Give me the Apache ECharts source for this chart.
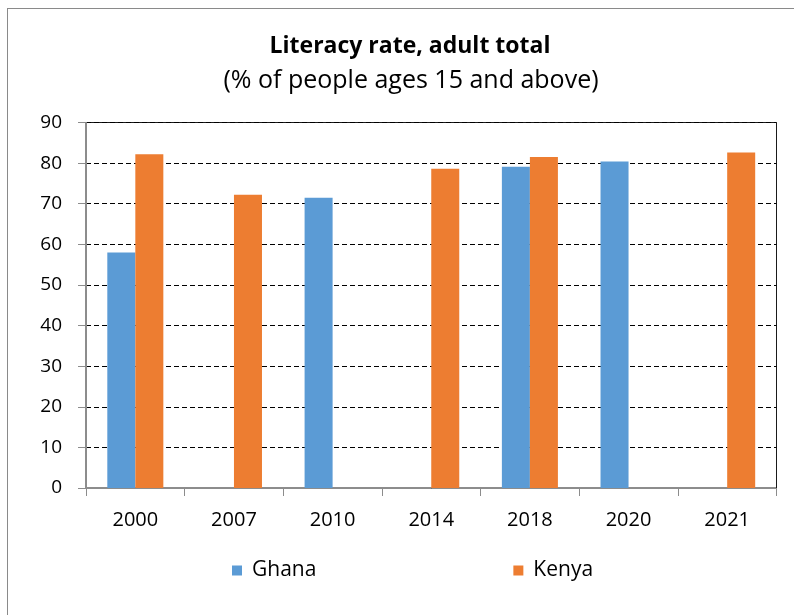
<!DOCTYPE html>
<html>
<head>
<meta charset="utf-8">
<script src="https://cdn.jsdelivr.net/npm/echarts@6/dist/echarts.min.js"></script>
<style>
  html, body { margin: 0; padding: 0; background: #fff; }
  #frame { position: absolute; left: 7px; top: 8px; width: 800px; height: 620px;
           border-left: 1px solid #8a8a8a; border-top: 1px solid #8a8a8a; }
  #chart { width: 794px; height: 615px; position: absolute; left: 0; top: 0; }
</style>
</head>
<body>
<div id="frame"></div>
<div id="chart"></div>
<script>
// Survey years on the category axis
const years = ['2000', '2007', '2010', '2014', '2018', '2020', '2021'];
// Adult literacy rate (%), null where no survey was reported
const ghana = [58.0, null, 71.5, null, 79.1, 80.4, null];
const kenya = [82.2, 72.2, null, 78.6, 81.5, null, 82.6];
// Value axis range
const yMin = 0, yMax = 90, yStep = 10;

const FONT = '"Open Sans", Lato, sans-serif';
const chart = echarts.init(document.getElementById('chart'), null, { renderer: 'canvas' });

chart.setOption({
  animation: false,
  backgroundColor: 'transparent',
  title: [
    {
      text: 'Literacy rate, adult total',
      left: 405, top: 30, textAlign: 'center',
      textStyle: { fontFamily: FONT, fontSize: 23, fontWeight: 'bold', color: '#000' }
    },
    {
      text: '(% of people ages 15 and above)',
      left: 406, top: 63, textAlign: 'center',
      textStyle: { fontFamily: FONT, fontSize: 25, fontWeight: 'normal', color: '#000' }
    }
  ],
  grid: {
    left: 86, top: 122.5, width: 690.5, height: 365.5,
    show: true, borderColor: '#1a1a1a', borderWidth: 1, backgroundColor: 'transparent'
  },
  legend: {
    left: 227, top: 555,
    itemWidth: 10, itemHeight: 10, itemGap: 197,
    icon: 'rect',
    textStyle: { fontFamily: FONT, fontSize: 21, color: '#000', padding: [0, 0, 0, 5] },
    data: ['Ghana', 'Kenya']
  },
  xAxis: {
    type: 'category',
    data: years,
    axisLine: { show: true, lineStyle: { color: '#8c8c8c', width: 1 } },
    axisTick: { show: true, length: 8, inside: false, alignWithLabel: false,
                lineStyle: { color: '#8c8c8c' } },
    axisLabel: { margin: 22, fontFamily: FONT, fontSize: 20, color: '#000' },
    splitLine: { show: false }
  },
  yAxis: {
    type: 'value',
    min: yMin, max: yMax, interval: yStep,
    axisLine: { show: true, lineStyle: { color: '#8c8c8c', width: 1 } },
    axisTick: { show: true, length: 8, lineStyle: { color: '#8c8c8c' } },
    axisLabel: { margin: 24, fontFamily: FONT, fontSize: 19, color: '#000' },
    splitLine: { show: true, lineStyle: { color: '#000', type: [5, 3], width: 1 } }
  },
  series: [
    {
      name: 'Ghana', type: 'bar', data: ghana,
      barWidth: '28.4%', barGap: '0%',
      itemStyle: { color: '#5B9BD5' }
    },
    {
      name: 'Kenya', type: 'bar', data: kenya,
      barWidth: '28.4%', barGap: '0%',
      itemStyle: { color: '#ED7D31' }
    }
  ]
});
</script>
</body>
</html>
